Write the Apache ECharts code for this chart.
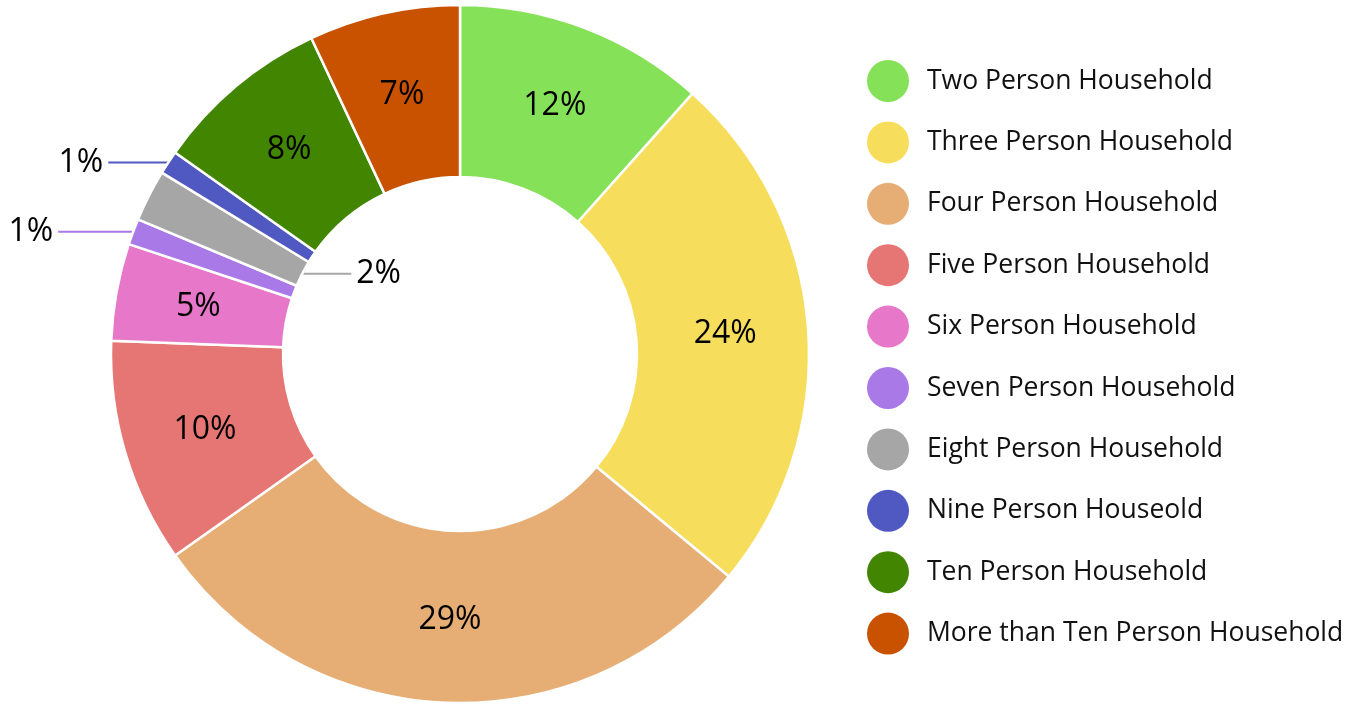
<!DOCTYPE html>
<html>
<head>
<meta charset="utf-8">
<script src="https://cdn.jsdelivr.net/npm/echarts@6/dist/echarts.min.js"></script>
<style>
  html, body { margin: 0; padding: 0; background: #fff; }
  #chart { width: 1357px; height: 705px; }
</style>
</head>
<body>
<div id="chart"></div>
<script>
// household size shares (percent)
const categories = [
  "Two Person Household",
  "Three Person Household",
  "Four Person Household",
  "Five Person Household",
  "Six Person Household",
  "Seven Person Household",
  "Eight Person Household",
  "Nine Person Houseold",
  "Ten Person Household",
  "More than Ten Person Household"
];
const shares = [11.6, 24.4, 29.2, 10.4, 4.5, 1.2, 2.4, 1.1, 8.2, 7.0];
const colors = ["#85e158", "#f6de5c", "#e6ae75", "#e57674", "#e677c9", "#a979e8", "#a6a6a6", "#5058c2", "#418500", "#c85200"];

// small slices get a leader line; the eight-person one points into the hole
const lineLen2 = { 5: 75, 7: 60 };
const holeLabelIdx = 6;

const CX = 460, CY = 354, R0 = 177, R1 = 349;

const chart = echarts.init(document.getElementById("chart"));

const total = shares.reduce((a, b) => a + b, 0);
function midAngle(idx) {
  let before = 0;
  for (let i = 0; i < idx; i++) before += shares[i];
  return (before + shares[idx] / 2) / total * Math.PI * 2;
}

const data = categories.map((name, i) => {
  const item = { name: name, value: shares[i], itemStyle: { color: colors[i] } };
  if (lineLen2[i] != null) {
    item.label = { position: "outside" };
    item.labelLine = { show: true, length: 0, length2: lineLen2[i] };
  } else if (i === holeLabelIdx) {
    item.label = { position: "outside" };
    item.labelLine = { show: true, length: 0, length2: 10 };
  }
  return item;
});

chart.setOption({
  backgroundColor: "#fff",
  animation: false,
  textStyle: { fontFamily: "Open Sans" },
  legend: {
    orient: "vertical",
    left: 867,
    top: 60,
    padding: 0,
    icon: "circle",
    itemWidth: 42,
    itemHeight: 42,
    itemGap: 19.4,
    itemStyle: { borderWidth: 0 },
    textStyle: { fontSize: 26.5, color: "#111", fontFamily: "Open Sans", padding: [0, 0, 0, 13] },
    data: categories
  },
  series: [{
    type: "pie",
    center: [CX, CY],
    radius: [R0, R1],
    startAngle: 90,
    clockwise: true,
    avoidLabelOverlap: false,
    itemStyle: { borderColor: "#fff", borderWidth: 2.5 },
    label: {
      show: true,
      position: "inside",
      fontSize: 32,
      color: "#000",
      fontFamily: "Open Sans",
      formatter: p => Math.round(p.value) + "%"
    },
    labelLine: { show: false, lineStyle: { width: 2 } },
    emphasis: { disabled: true },
    labelLayout: function (params) {
      if (params.dataIndex !== holeLabelIdx) return {};
      const a = midAngle(holeLabelIdx);
      const x0 = CX + R0 * Math.sin(a);
      const y0 = CY - R0 * Math.cos(a);
      const x1 = x0 + 49;
      return {
        x: x1 + 5,
        y: y0,
        align: "left",
        verticalAlign: "middle",
        labelLinePoints: [[x0, y0], [x0, y0], [x1, y0]]
      };
    },
    data: data
  }]
});
</script>
</body>
</html>
